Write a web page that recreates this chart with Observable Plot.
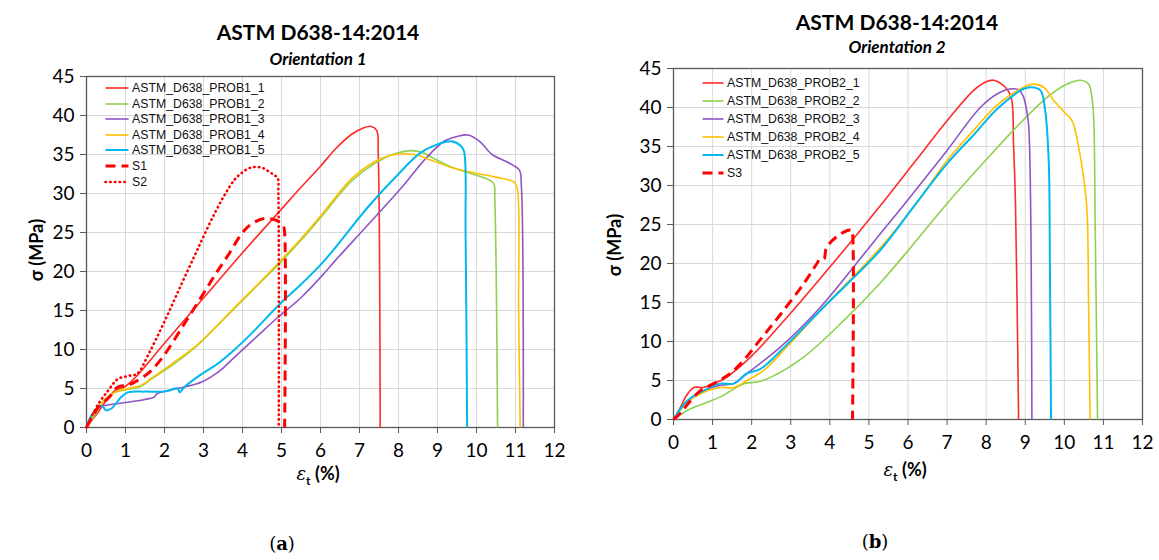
<!DOCTYPE html>
<html>
<head>
<meta charset="utf-8">
<script src="https://cdn.jsdelivr.net/npm/d3@7"></script>
<script src="https://cdn.jsdelivr.net/npm/@observablehq/plot@0.6"></script>
<style>
  html, body { margin: 0; padding: 0; background: #fff; }
  body { width: 1159px; height: 560px; position: relative; overflow: hidden; font-family: Lato, "Open Sans", sans-serif; }
  .abs { position: absolute; white-space: nowrap; }
  .title { font-weight: bold; font-size: 21px; transform: translateX(-50%); }
  .sub { font-weight: bold; font-style: italic; font-size: 17px; transform: translateX(-50%); }
  .ylab { font-weight: bold; font-size: 18px; transform: translate(-50%, -50%) rotate(-90deg); }
  .xlab { font-weight: bold; font-size: 18px; transform: translate(-50%, -50%); }
  .cap { font-size: 18px; transform: translate(-50%, -50%); font-family: "DejaVu Serif", serif; }
  .legend { position: absolute; font-size: 12.3px; font-family: "Liberation Sans", Arial, sans-serif; line-height: 14px; color: #111; }
  .legend .row { position: absolute; display: flex; align-items: center; white-space: nowrap; height: 14px; line-height: 14px; }
  .legend svg { margin-right: 2px; display: block; }
  .panel { position: absolute; top: 0; }
</style>
</head>
<body>
<div id="left" class="panel" style="left:0"></div>
<div id="right" class="panel" style="left:580px"></div>

<div class="abs title" style="left:318px; top:19px">ASTM D638-14:2014</div>
<div class="abs sub" style="left:318px; top:48px">Orientation 1</div>
<div class="abs title" style="left:897px; top:9px">ASTM D638-14:2014</div>
<div class="abs sub" style="left:897px; top:36px">Orientation 2</div>

<div class="abs ylab" style="left:36px; top:250px">σ (MPa)</div>
<div class="abs ylab" style="left:614px; top:245px">σ (MPa)</div>
<div class="abs xlab" style="left:318px; top:475px"><i style="font-family:'DejaVu Serif',serif;font-weight:normal">ε</i><sub style="font-size:12px">t</sub> (%)</div>
<div class="abs xlab" style="left:905px; top:471px"><i style="font-family:'DejaVu Serif',serif;font-weight:normal">ε</i><sub style="font-size:12px">t</sub> (%)</div>
<div class="abs cap" style="left:282px; top:543px">(<b>a</b>)</div>
<div class="abs cap" style="left:875px; top:541px">(<b>b</b>)</div>

<div id="legL" class="legend"></div>
<div id="legR" class="legend"></div>

<script>
// ---------- tick values ----------
const xTicks = [0,1,2,3,4,5,6,7,8,9,10,11,12];
const yTicks = [0,5,10,15,20,25,30,35,40,45];

// ---------- Orientation 1 ----------
const p1_1_x = [0,0.3,0.72,0.97,1.23,2,3,4,5,5.5,6,6.4,6.8,7.1,7.3,7.44,7.48,7.53];
const p1_1_y = [0,2,4.7,5.2,6.3,10.8,16.6,22.4,28,30.8,33.5,35.8,37.6,38.4,38.6,38.1,35,0];

const p1_2_x = [0,0.2,0.46,0.72,1.06,1.4,1.66,2.2,2.77,3.3,3.8,4.4,5,5.5,6,6.8,7.4,7.9,8.3,8.6,8.9,9.4,9.9,10.3,10.44,10.47,10.54];
const p1_2_y = [0,1.5,3.6,4.5,4.9,5.3,6.2,8.0,10.2,12.8,15.3,18.3,21.3,24.0,26.9,31.6,33.9,35.1,35.5,35.3,34.5,33.3,32.5,31.8,31.3,29,0];

const p1_3_x = [0,0.29,0.46,1.0,1.5,1.74,1.8,2.17,2.51,2.94,3.4,3.79,4.4,4.9,5.49,6.1,6.36,7.2,8.12,8.7,9.17,9.5,9.79,10.1,10.4,10.8,11.1,11.15,11.2];
const p1_3_y = [0,2.6,2.8,3.2,3.6,3.9,4.3,4.8,5.2,5.8,7.2,9.0,11.8,14.1,16.6,19.8,21.3,25.9,31.0,34.5,36.7,37.3,37.5,36.6,35.0,34.0,33.0,31,0];

const p1_4_x = [0,0.2,0.46,0.72,1.06,1.4,1.66,2.2,2.77,3.3,3.8,4.4,5,5.5,6,6.8,7.4,7.8,8.17,8.5,8.82,9.44,10,10.5,10.98,11.05,11.08,11.12];
const p1_4_y = [0,1.8,3.5,4.5,5.0,5.4,6.3,8.2,10.3,12.8,15.4,18.4,21.5,24.2,27.1,31.9,34.1,34.9,35.1,34.9,34.3,33.2,32.6,32.1,31.4,30.5,15,0];

const p1_5_x = [0,0.12,0.38,0.5,0.63,0.89,1.06,1.5,2.0,2.34,2.39,2.51,2.85,3.37,3.8,4.22,4.99,5.49,6.1,7.24,8.0,8.56,9.0,9.35,9.6,9.68,9.72,9.76];
const p1_5_y = [0,1.5,2.8,2.2,2.4,3.9,4.5,4.6,4.6,5.0,4.5,5.2,6.5,8.2,10.0,12.0,16.0,18.3,21.4,28.4,32.5,35.2,36.3,36.7,36.1,35.4,25,0];

const s1_x = [0,0.3,0.59,0.8,1.06,1.23,1.57,1.92,2.51,2.94,3.3,3.62,4.05,4.3,4.56,4.9,5.05,5.08,5.08];
const s1_y = [0,2.6,3.9,5.2,5.4,5.8,6.9,8.8,13.3,16.7,19.6,22,25.3,26.3,26.8,26.5,25.8,25,0];

const s2_x = [0,0.3,0.55,0.8,1.06,1.3,1.6,2.0,2.4,2.77,3.03,3.3,3.54,3.8,3.97,4.15,4.31,4.5,4.65,4.8,4.9,4.92,4.93];
const s2_y = [0,3.0,4.7,6.2,6.6,6.9,9.5,13.6,18.0,22.0,24.8,27.6,29.8,31.8,32.6,33.2,33.4,33.3,32.9,32.4,32.0,30,0];

// ---------- Orientation 2 ----------
const p2_1_x = [0,0.18,0.35,0.52,0.77,1.03,1.29,1.97,2.99,4.36,5.29,6.2,7.0,7.68,8.0,8.19,8.49,8.64,8.7,8.75,8.83];
const p2_1_y = [0,1.6,3.2,4.1,4.1,4.6,5.2,8.0,13.6,21.7,27.4,33.2,38.3,42.2,43.3,43.5,42.6,41.3,35.3,27.7,0];

const p2_2_x = [0,0.35,1.2,1.8,2.14,2.48,3.33,4.36,5.29,6.06,7.0,8.0,8.7,9.56,10.07,10.41,10.62,10.7,10.75,10.79,10.85];
const p2_2_y = [0,1.15,2.9,4.6,4.8,5.4,8.0,12.7,17.5,22.0,27.7,33.3,37.1,41.3,43.0,43.5,43.0,41.5,38.8,24.7,0];

const p2_3_x = [0,0.18,0.4,0.77,1.2,1.54,1.88,2.74,3.76,4.95,5.29,6.1,7.0,7.85,8.3,8.66,8.85,8.96,9.04,9.09,9.17];
const p2_3_y = [0,1.3,2.5,3.7,4.4,4.6,5.9,9.3,14.4,21.7,23.8,28.8,34.5,40.0,41.8,42.4,42.2,41.3,39.5,37.5,0];

const p2_4_x = [0,0.35,0.77,1.2,1.54,1.88,2.31,2.9,3.84,5.29,6.2,7.0,7.7,8.28,8.96,9.21,9.47,9.73,10.0,10.2,10.4,10.49,10.58,10.62,10.66];
const p2_4_y = [0,2.2,3.5,4.1,4.1,5.0,6.3,9.3,14.4,22.0,27.6,33.2,37.2,40.3,42.6,43.0,42.6,40.9,39.4,38.3,34,31.1,26.8,15,0];

const p2_5_x = [0,0.35,0.77,1.2,1.54,1.88,2.23,2.9,3.84,5.29,6.1,7.0,7.7,8.28,8.96,9.17,9.39,9.51,9.6,9.63,9.66];
const p2_5_y = [0,2.4,3.7,4.6,4.6,5.9,6.5,9.6,14.4,21.7,27.0,32.8,36.6,39.8,42.4,42.6,42.2,39.6,33.2,20,0];

const s3_x = [0,0.18,0.35,0.69,1.03,1.37,1.71,2.23,2.74,3.33,3.67,3.75,3.85,3.92,4.31,4.56,4.58,4.58];
const s3_y = [0,0.8,1.9,3.7,4.6,5.6,7.1,10.3,13.5,17.4,20.0,20.6,20.6,22.1,23.9,24.3,24,0];

// ---------- series meta ----------
const namesL = ["ASTM_D638_PROB1_1","ASTM_D638_PROB1_2","ASTM_D638_PROB1_3","ASTM_D638_PROB1_4","ASTM_D638_PROB1_5","S1","S2"];
const namesR = ["ASTM_D638_PROB2_1","ASTM_D638_PROB2_2","ASTM_D638_PROB2_3","ASTM_D638_PROB2_4","ASTM_D638_PROB2_5","S3"];
const colors = {red:"#ff2a2a", green:"#8fd14f", purple:"#8f55c4", yellow:"#ffc000", cyan:"#00b8f0"};
const DOT = "0.5,4.2";

function toRows(xs, ys) { return xs.map((x, i) => ({x, y: ys[i]})); }

const seriesL = [
  {name: namesL[0], data: toRows(p1_1_x, p1_1_y), stroke: colors.red, w: 1.6, dash: null},
  {name: namesL[1], data: toRows(p1_2_x, p1_2_y), stroke: colors.green, w: 1.6, dash: null},
  {name: namesL[2], data: toRows(p1_3_x, p1_3_y), stroke: colors.purple, w: 1.6, dash: null},
  {name: namesL[3], data: toRows(p1_4_x, p1_4_y), stroke: colors.yellow, w: 1.6, dash: null},
  {name: namesL[4], data: toRows(p1_5_x, p1_5_y), stroke: colors.cyan, w: 2, dash: null},
  {name: namesL[5], data: toRows(s1_x, s1_y), stroke: "#ff0000", w: 3, dash: "10,6"},
  {name: namesL[6], data: toRows(s2_x, s2_y), stroke: "#ff0000", w: 2.6, dash: DOT}
];
const seriesR = [
  {name: namesR[0], data: toRows(p2_1_x, p2_1_y), stroke: colors.red, w: 1.6, dash: null},
  {name: namesR[1], data: toRows(p2_2_x, p2_2_y), stroke: colors.green, w: 1.6, dash: null},
  {name: namesR[2], data: toRows(p2_3_x, p2_3_y), stroke: colors.purple, w: 1.6, dash: null},
  {name: namesR[3], data: toRows(p2_4_x, p2_4_y), stroke: colors.yellow, w: 1.6, dash: null},
  {name: namesR[4], data: toRows(p2_5_x, p2_5_y), stroke: colors.cyan, w: 2, dash: null},
  {name: namesR[5], data: toRows(s3_x, s3_y), stroke: "#ff0000", w: 3, dash: "10,6"}
];

function makePlot(series, m) {
  const lineMarks = series.map(s => Plot.line(s.data, {
    x: "x", y: "y", stroke: s.stroke, strokeWidth: s.w, curve: "catmull-rom",
    strokeDasharray: s.dash, strokeLinejoin: "round", strokeLinecap: s.dash === DOT ? "round" : "butt"
  }));
  return Plot.plot({
    width: m.width, height: 500,
    marginLeft: m.left, marginRight: m.right, marginTop: m.top, marginBottom: m.bottom,
    style: {fontFamily: "Lato, 'Open Sans', sans-serif", fontSize: "19px", color: "#000", background: "transparent"},
    x: {domain: [0, 12]},
    y: {domain: [0, 45]},
    marks: [
      Plot.gridX(xTicks, {stroke: "#d9d9d9", strokeOpacity: 1}),
      Plot.gridY(yTicks, {stroke: "#d9d9d9", strokeOpacity: 1}),
      Plot.frame({stroke: "#595959", strokeWidth: 1.3}),
      Plot.axisX({ticks: xTicks, tickSize: 6, tickPadding: 10, label: null, stroke: "#595959", fontSize: 19}),
      Plot.axisY({ticks: yTicks, tickSize: 6, tickPadding: 6, label: null, stroke: "#595959", fontSize: 19}),
      ...lineMarks
    ]
  });
}

document.getElementById("left").append(makePlot(seriesL, {width: 580, left: 86, right: 26, top: 76, bottom: 73}));
document.getElementById("right").append(makePlot(seriesR, {width: 579, left: 93, right: 17, top: 68, bottom: 81}));

function legend(el, series, x0, ys, lineLen) {
  series.forEach((s, i) => {
    const row = document.createElement("div");
    row.className = "row";
    row.style.left = x0 + "px";
    row.style.top = (ys[i] - 7) + "px";
    const dash = s.dash ? `stroke-dasharray="${s.dash}"` : "";
    const cap = s.dash === DOT ? 'stroke-linecap="round"' : "";
    row.innerHTML = `<svg width="${lineLen}" height="14"><line x1="1.5" y1="7" x2="${lineLen-1.5}" y2="7" stroke="${s.stroke}" stroke-width="${s.w}" ${dash} ${cap}/></svg><span>${s.name}</span>`;
    el.append(row);
  });
}
legend(document.getElementById("legL"), seriesL, 104, [88,104,119,135,150,166,182], 26);
legend(document.getElementById("legR"), seriesR, 701, [83,101,119,137,155,173], 24);
</script>
</body>
</html>
